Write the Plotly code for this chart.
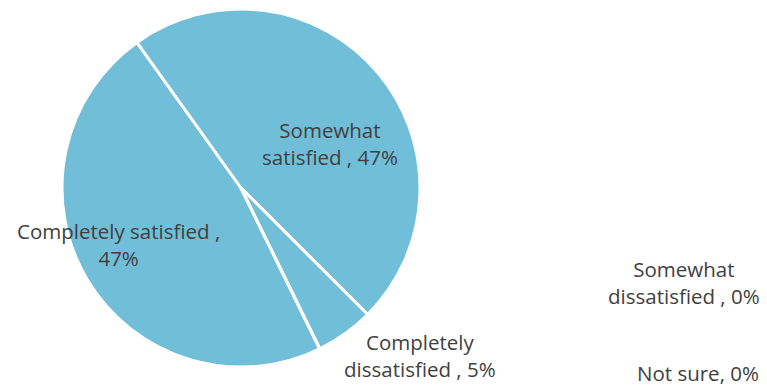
import plotly.graph_objects as go

categories = ["Completely satisfied", "Somewhat satisfied", "Somewhat dissatisfied",
              "Completely dissatisfied", "Not sure"]
counts = [9, 9, 0, 1, 0]
label_texts = ["Completely satisfied ,<br>{p}%", "Somewhat<br>satisfied , {p}%",
               "Somewhat<br>dissatisfied , {p}%", "Completely<br>dissatisfied , {p}%",
               "Not sure, {p}%"]

W, H = 767, 386
# label centers in pixels (layout)
label_pos = [(118, 244), (330, 143), (684, 282), (420, 355), (698, 373)]

total = sum(counts)
pcts = [round(100 * c / total) for c in counts]

fig = go.Figure(go.Pie(
    labels=categories,
    values=counts,
    sort=False,
    direction="clockwise",
    rotation=153.9,
    marker=dict(colors=["#71BED9"] * len(categories), line=dict(color="white", width=3)),
    textinfo="none",
    hoverinfo="label+percent",
    showlegend=False,
    domain=dict(x=[62 / W, 420 / W], y=[1 - 367 / H, 1 - 9 / H]),
))

for t, p, (px, py) in zip(label_texts, pcts, label_pos):
    fig.add_annotation(
        x=px / W, y=1 - py / H, xref="paper", yref="paper",
        text=t.format(p=p), showarrow=False, align="center",
        xanchor="center", yanchor="middle",
        font=dict(family="Open Sans", size=20.5, color="#404040"),
    )

fig.update_layout(
    width=W, height=H,
    margin=dict(l=0, r=0, t=0, b=0),
    paper_bgcolor="white", plot_bgcolor="white",
)
fig.write_html("out.html", config={"displayModeBar": False},
               post_script="document.body.style.margin='0';")
